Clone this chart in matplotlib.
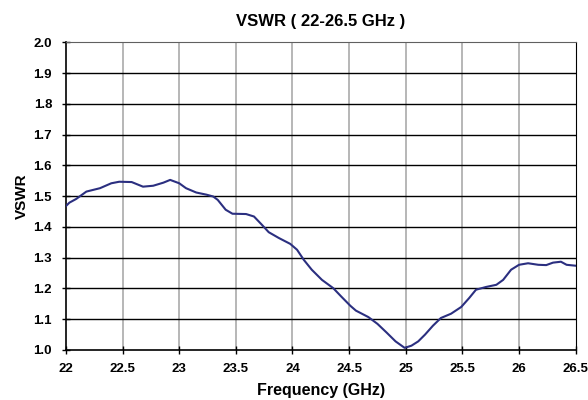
import matplotlib
matplotlib.use("Agg")
import matplotlib.pyplot as plt
import numpy as np

plt.rcParams['font.family'] = ['Liberation Sans', 'DejaVu Sans']

freq = [22.00, 22.03, 22.09, 22.18, 22.30, 22.40, 22.47, 22.58, 22.68, 22.77, 22.86, 22.92,
        23.00, 23.06, 23.15, 23.24, 23.30, 23.34, 23.41, 23.47, 23.59, 23.66, 23.73, 23.79,
        23.88, 23.98, 24.04, 24.10, 24.17, 24.26, 24.36, 24.43, 24.51, 24.56, 24.67, 24.75,
        24.83, 24.91, 24.99, 25.05, 25.11, 25.17, 25.24, 25.31, 25.40, 25.49, 25.56, 25.62,
        25.71, 25.80, 25.86, 25.93, 26.00, 26.08, 26.17, 26.24, 26.30, 26.37, 26.42, 26.50]
vswr = [1.468, 1.479, 1.491, 1.515, 1.526, 1.542, 1.547, 1.546, 1.531, 1.534, 1.544, 1.553,
        1.542, 1.526, 1.512, 1.505, 1.499, 1.488, 1.456, 1.443, 1.442, 1.434, 1.407, 1.383,
        1.364, 1.345, 1.326, 1.293, 1.261, 1.228, 1.201, 1.174, 1.144, 1.128, 1.107, 1.085,
        1.057, 1.028, 1.007, 1.014, 1.028, 1.050, 1.079, 1.104, 1.118, 1.140, 1.169, 1.196,
        1.205, 1.212, 1.228, 1.261, 1.277, 1.282, 1.277, 1.276, 1.284, 1.287, 1.277, 1.274]

xticks = [22, 22.5, 23, 23.5, 24, 24.5, 25, 25.5, 26, 26.5]
xticklabels = ['22', '22.5', '23', '23.5', '24', '24.5', '25', '25.5', '26', '26.5']
yticks = [1.0, 1.1, 1.2, 1.3, 1.4, 1.5, 1.6, 1.7, 1.8, 1.9, 2.0]
yticklabels = ['%.1f' % v for v in yticks]

fig = plt.figure(figsize=(5.88, 4.0), dpi=100)
ax = fig.add_axes([0.1122, 0.125, 0.979 - 0.1122, 0.894 - 0.125])

ax.plot(freq, vswr, color='#2B2F80', linewidth=1.5, zorder=3)

ax.set_xlim(22, 26.5)
ax.set_ylim(1.0, 2.0)
ax.set_xticks(xticks)
ax.set_xticklabels(xticklabels, fontsize=9.5, fontweight='bold')
ax.set_yticks(yticks)
ax.set_yticklabels(yticklabels, fontsize=9.5, fontweight='bold')

for x in xticks[1:-1]:
    ax.axvline(x, color='#AAAAAA', linewidth=1.2, zorder=1)
for y in yticks[1:-1]:
    ax.axhline(y, color='black', linewidth=1.0, zorder=1)

ax.tick_params(axis='both', direction='inout', length=6, width=1)
ax.tick_params(axis='y', pad=7)
ax.tick_params(axis='x', pad=6)
ax.spines['left'].set_linewidth(1.2)
ax.spines['bottom'].set_linewidth(1.2)
ax.spines['top'].set_color('#606060')
ax.spines['right'].set_color('black')

ax.set_title('VSWR ( 22-26.5 GHz )', fontsize=12, fontweight='bold', pad=12)
ax.set_xlabel('Frequency (GHz)', fontsize=11.5, fontweight='bold', labelpad=6)
ax.set_ylabel('VSWR', fontsize=11, fontweight='bold', labelpad=3)

fig.savefig('out.png', dpi=100)
